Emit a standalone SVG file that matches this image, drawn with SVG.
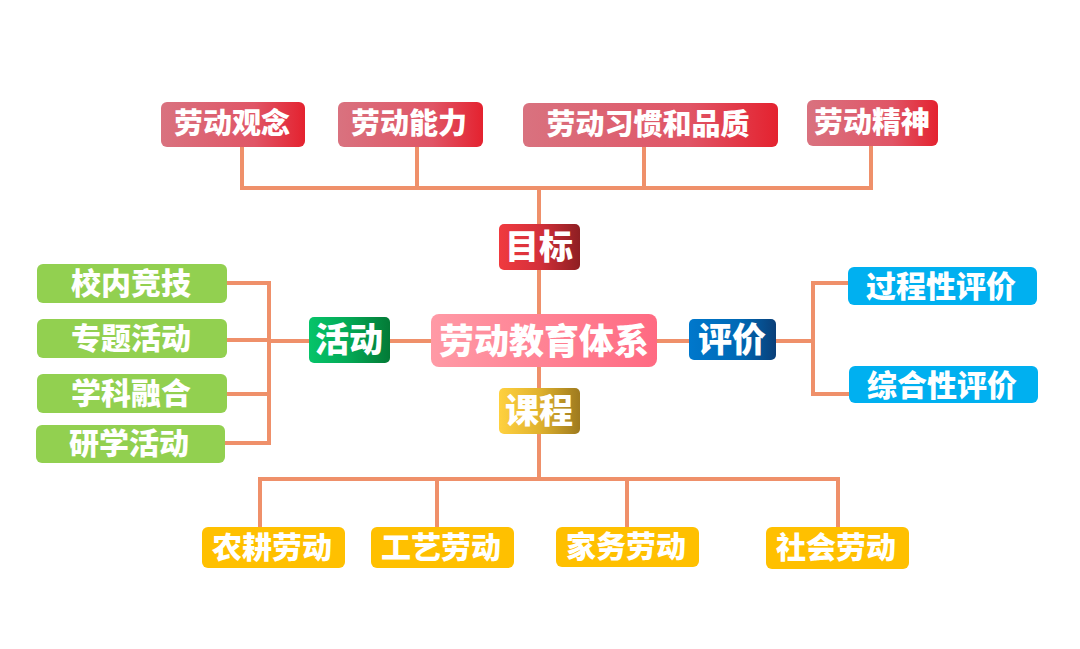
<svg xmlns="http://www.w3.org/2000/svg" width="1080" height="649" viewBox="0 0 1080 649">
<defs>
<linearGradient id="gTop" x1="0" y1="0" x2="1" y2="0"><stop offset="0" stop-color="#D9727F"/><stop offset="0.65" stop-color="#E05566"/><stop offset="1" stop-color="#E4222F"/></linearGradient>
<linearGradient id="gGoal" x1="0" y1="0" x2="1" y2="0"><stop offset="0" stop-color="#F03A3F"/><stop offset="0.5" stop-color="#D4303A"/><stop offset="1" stop-color="#8E1E22"/></linearGradient>
<linearGradient id="gCenter" x1="0" y1="0" x2="1" y2="0"><stop offset="0" stop-color="#FF9AA6"/><stop offset="1" stop-color="#FF6A82"/></linearGradient>
<linearGradient id="gEval" x1="0" y1="0" x2="1" y2="0"><stop offset="0" stop-color="#0078CC"/><stop offset="0.6" stop-color="#0068B4"/><stop offset="1" stop-color="#0A3F78"/></linearGradient>
<linearGradient id="gCourse" x1="0" y1="0" x2="1" y2="0"><stop offset="0" stop-color="#FFD13F"/><stop offset="0.5" stop-color="#E0B22E"/><stop offset="1" stop-color="#9E7A1E"/></linearGradient>
<linearGradient id="gAct" x1="0" y1="0" x2="1" y2="0"><stop offset="0" stop-color="#06C46A"/><stop offset="0.5" stop-color="#04A855"/><stop offset="1" stop-color="#037A36"/></linearGradient>
</defs>
<style>
.t{font-family:"Noto Sans CJK SC","Noto Sans",sans-serif;font-weight:900;fill:#fff;text-anchor:middle;dominant-baseline:central}
.s{font-size:29px}
.l{font-size:30px}
.m{font-size:34px}
.x{font-size:35px}
.c{stroke:#EF906A;stroke-width:4;fill:none;stroke-linecap:square}
.green{fill:#92D050}
.cyan{fill:#00B0F0}
.gold{fill:#FFC000}
</style>
<rect width="1080" height="649" fill="#fff"/>
<g id="connectors">
<path class="c" d="M242 147V188H871V146M417 147V188M644 147V188M539 188V224M539 270V314M539 367V388M539 434V479M260 527V479H838V527M437 479V527M627 479V527"/>
<path class="c" d="M227 283H269V443H225M227 340H269M227 394H269M269 341H309M390 341H431"/>
<path class="c" d="M657 341H689M776 341H813M848 283H813V394H849"/>
</g>
<g id="n-guannian"><rect x="161" y="102" width="144" height="45" rx="6" fill="url(#gTop)"/><text class="t s" x="232" y="121">劳动观念</text></g>
<g id="n-nengli"><rect x="338" y="102" width="145" height="45" rx="6" fill="url(#gTop)"/><text class="t s" x="409" y="121">劳动能力</text></g>
<g id="n-xiguan"><rect x="523" y="103" width="255" height="44" rx="6" fill="url(#gTop)"/><text class="t s" x="648" y="122">劳动习惯和品质</text></g>
<g id="n-jingshen"><rect x="807" y="100" width="131" height="46" rx="6" fill="url(#gTop)"/><text class="t s" x="872" y="120">劳动精神</text></g>
<g id="n-mubiao"><rect x="499" y="224" width="81" height="46" rx="5" fill="url(#gGoal)"/><text class="t m" x="539" y="244">目标</text></g>
<g id="n-center"><rect x="431" y="314" width="226" height="53" rx="8" fill="url(#gCenter)"/><text class="t x" x="544" y="338">劳动教育体系</text></g>
<g id="n-pingjia"><rect x="689" y="319" width="87" height="41" rx="5" fill="url(#gEval)"/><text class="t m" x="732" y="337">评价</text></g>
<g id="n-kecheng"><rect x="499" y="388" width="81" height="46" rx="5" fill="url(#gCourse)"/><text class="t m" x="539" y="408">课程</text></g>
<g id="n-huodong"><rect x="309" y="317" width="81" height="46" rx="5" fill="url(#gAct)"/><text class="t m" x="349" y="337">活动</text></g>
<g id="n-xiaonei"><rect class="green" x="37" y="264" width="190" height="39" rx="6"/><text class="t l" x="131" y="281">校内竞技</text></g>
<g id="n-zhuanti"><rect class="green" x="37" y="319" width="190" height="39" rx="6"/><text class="t l" x="131" y="336">专题活动</text></g>
<g id="n-xueke"><rect class="green" x="37" y="374" width="190" height="39" rx="6"/><text class="t l" x="131" y="391">学科融合</text></g>
<g id="n-yanxue"><rect class="green" x="36" y="425" width="189" height="38" rx="6"/><text class="t l" x="129" y="441">研学活动</text></g>
<g id="n-guocheng"><rect class="cyan" x="848" y="267" width="189" height="38" rx="6"/><text class="t l" x="941" y="284">过程性评价</text></g>
<g id="n-zonghe"><rect class="cyan" x="849" y="366" width="189" height="37" rx="6"/><text class="t l" x="942" y="383">综合性评价</text></g>
<g id="n-nonggeng"><rect class="gold" x="202" y="527" width="143" height="41" rx="6"/><text class="t l" x="272" y="545">农耕劳动</text></g>
<g id="n-gongyi"><rect class="gold" x="371" y="527" width="143" height="41" rx="6"/><text class="t l" x="441" y="545">工艺劳动</text></g>
<g id="n-jiawu"><rect class="gold" x="556" y="527" width="143" height="40" rx="6"/><text class="t l" x="626" y="544">家务劳动</text></g>
<g id="n-shehui"><rect class="gold" x="766" y="527" width="143" height="42" rx="6"/><text class="t l" x="836" y="545">社会劳动</text></g>
</svg>
